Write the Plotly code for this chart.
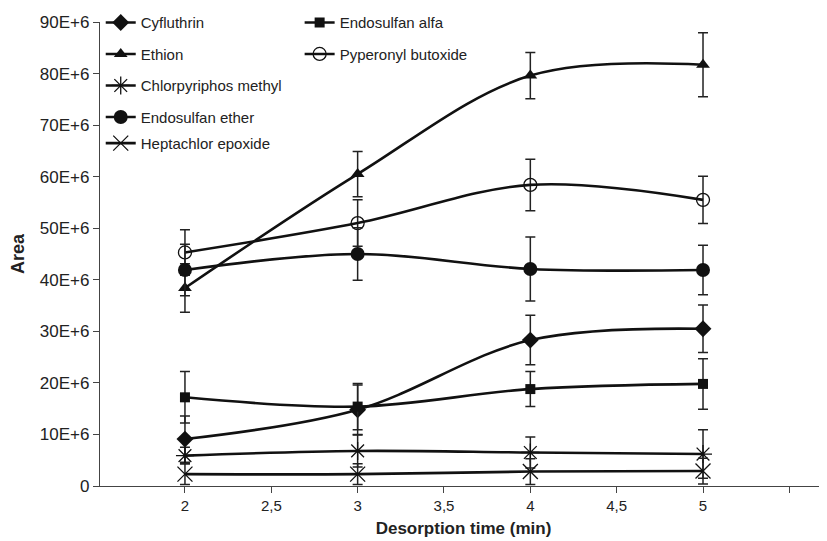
import plotly.graph_objects as go

times = [2, 3, 4, 5]

cyfluthrin = [9.1e6, 14.8e6, 28.3e6, 30.5e6]
cyfluthrin_err = [4.5e6, 4.8e6, 4.8e6, 4.6e6]
endosulfan_alfa = [17.2e6, 15.4e6, 18.8e6, 19.8e6]
endosulfan_alfa_err = [5.0e6, 4.5e6, 3.4e6, 4.9e6]
ethion = [38.4e6, 60.5e6, 79.6e6, 81.7e6]
ethion_err = [4.7e6, 4.4e6, 4.5e6, 6.2e6]
pyperonyl = [45.3e6, 51.0e6, 58.4e6, 55.5e6]
pyperonyl_err = [4.4e6, 4.5e6, 5.0e6, 4.6e6]
chlorpyriphos = [5.9e6, 6.8e6, 6.5e6, 6.2e6]
chlorpyriphos_err = [1.6e6, 3.1e6, 3.0e6, 4.7e6]
endosulfan_ether = [41.9e6, 45.0e6, 42.1e6, 41.9e6]
endosulfan_ether_err = [5.0e6, 5.1e6, 6.2e6, 4.8e6]
heptachlor = [2.3e6, 2.3e6, 2.8e6, 2.9e6]
heptachlor_err = [2.0e6, 2.0e6, 2.5e6, 2.5e6]

x_tickvals = [2, 2.5, 3, 3.5, 4, 4.5, 5, 5.5]
x_ticktext = ["2", "2,5", "3", "3,5", "4", "4,5", "5", ""]
y_tickvals = [0, 10e6, 20e6, 30e6, 40e6, 50e6, 60e6, 70e6, 80e6, 90e6]
y_ticktext = ["0", "10E+6", "20E+6", "30E+6", "40E+6", "50E+6", "60E+6", "70E+6", "80E+6", "90E+6"]

series = [
    ("Cyfluthrin", cyfluthrin, cyfluthrin_err, dict(symbol="diamond", size=13, color="#111"), "legend"),
    ("Endosulfan alfa", endosulfan_alfa, endosulfan_alfa_err, dict(symbol="square", size=10, color="#111"), "legend2"),
    ("Ethion", ethion, ethion_err, dict(symbol="triangle-up", size=12, color="#111"), "legend"),
    ("Pyperonyl butoxide", pyperonyl, pyperonyl_err,
     dict(symbol="circle-open", size=13, color="#111", line=dict(width=1.3, color="#111")), "legend2"),
    ("Chlorpyriphos methyl", chlorpyriphos, chlorpyriphos_err,
     dict(symbol="asterisk-open", size=15, color="#111", line=dict(width=1.3, color="#111")), "legend"),
    ("Endosulfan ether", endosulfan_ether, endosulfan_ether_err, dict(symbol="circle", size=14, color="#111"), "legend"),
    ("Heptachlor epoxide", heptachlor, heptachlor_err,
     dict(symbol="x-thin-open", size=15, color="#111", line=dict(width=1.3, color="#111")), "legend3"),
]

fig = go.Figure()
for name, vals, err, marker, lg in series:
    fig.add_trace(go.Scatter(
        x=times, y=vals, name=name, mode="lines+markers",
        line=dict(color="#111", width=2.6, shape="spline", smoothing=1.0),
        marker=marker,
        error_y=dict(type="data", array=err, visible=True, color="#222", thickness=1.5, width=5),
        legend=lg, legendgroup=name,
    ))

font_family = "Liberation Sans, Arial, sans-serif"
leg_common = dict(xanchor="left", yanchor="top", bgcolor="rgba(0,0,0,0)",
                  traceorder="grouped", tracegroupgap=9, font=dict(size=15))
fig.update_layout(
    width=827, height=541,
    margin=dict(l=92, r=8, t=14, b=63, autoexpand=False),
    plot_bgcolor="white", paper_bgcolor="white",
    font=dict(family=font_family, size=15, color="#222"),
    showlegend=True,
    legend=dict(x=0.001, y=1.034, **leg_common),
    legend2=dict(x=0.2746, y=1.034, **leg_common),
    legend3=dict(x=0.001, y=0.774, **leg_common),
    xaxis=dict(range=[1.508, 5.718], tickvals=x_tickvals, ticktext=x_ticktext,
               showgrid=False, zeroline=False, showline=True, linecolor="#444", linewidth=1.3,
               ticks="outside", ticklen=6, tickcolor="#444", tickwidth=1.2, tickfont=dict(size=15),
               title=dict(text="<b>Desorption time (min)</b>", font=dict(size=17), standoff=8)),
    yaxis=dict(range=[0, 90e6], tickvals=y_tickvals, ticktext=y_ticktext,
               showgrid=False, zeroline=False, showline=True, linecolor="#444", linewidth=1.3,
               ticks="outside", ticklen=6, tickcolor="#444", tickwidth=1.2, tickfont=dict(size=17),
               title=dict(text="<b>Area</b>", font=dict(size=18), standoff=12)),
)

fig.write_html("out.html")
